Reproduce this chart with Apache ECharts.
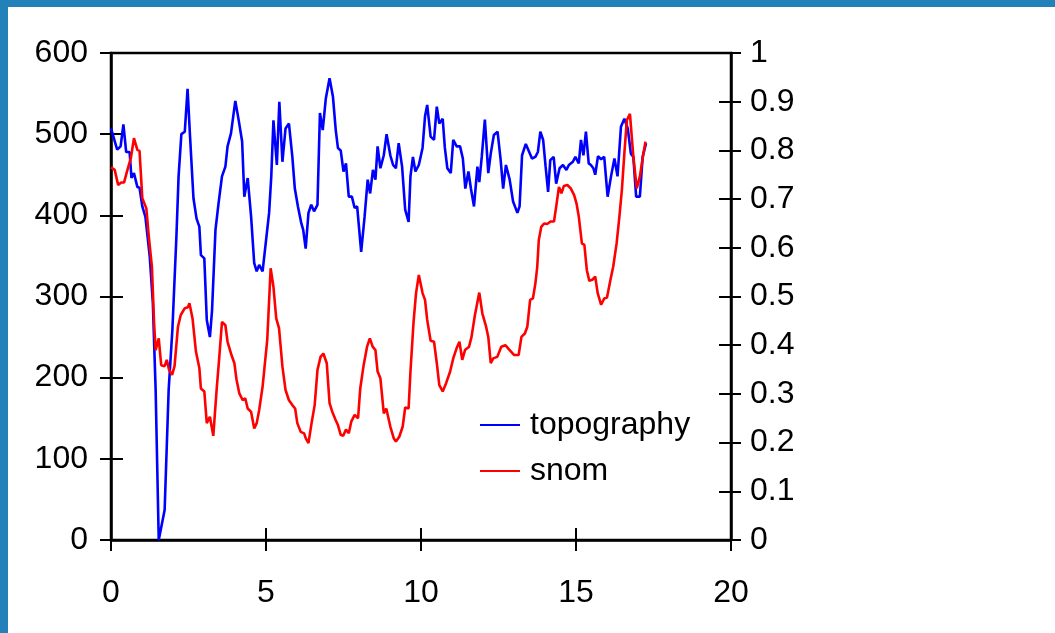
<!DOCTYPE html>
<html>
<head>
<meta charset="utf-8">
<script src="https://cdn.jsdelivr.net/npm/echarts@6/dist/echarts.min.js"></script>
<style>
  html, body { margin: 0; padding: 0; background: #fff; }
  #chart { position: absolute; left: 0; top: 0; width: 1055px; height: 633px; }
  .bar { position: absolute; background: #2381b9; }
</style>
</head>
<body>
<div id="chart"></div>
<div class="bar" style="left:0;top:0;width:1055px;height:7px"></div>
<div class="bar" style="left:0;top:0;width:8px;height:633px"></div>
<script>
// topography (left axis)
const topoX = [0, 0.2, 0.31, 0.4, 0.49, 0.6, 0.66, 0.74, 0.85, 0.92, 1.01, 1.11, 1.25, 1.35, 1.44, 1.54, 1.73, 1.86, 1.98, 2.11,
  2.18, 2.27, 2.38, 2.47, 2.55, 2.66, 2.76, 2.85, 2.9, 3.01, 3.09, 3.19, 3.26, 3.37, 3.47, 3.58, 3.69, 3.76, 3.87, 4.01,
  4.12, 4.23, 4.3, 4.41, 4.52, 4.62, 4.7, 4.78, 4.89, 4.94, 5.1, 5.17, 5.24, 5.35, 5.43, 5.53, 5.63, 5.74, 5.85, 5.93,
  6.03, 6.14, 6.2, 6.28, 6.37, 6.46, 6.55, 6.66, 6.74, 6.83, 6.93, 7.05, 7.16, 7.25, 7.32, 7.41, 7.5, 7.58, 7.67, 7.77,
  7.86, 7.94, 8.07, 8.18, 8.28, 8.36, 8.45, 8.53, 8.6, 8.69, 8.8, 8.89, 9.01, 9.1, 9.19, 9.28, 9.39, 9.49, 9.6, 9.66,
  9.74, 9.82, 9.93, 10.05, 10.13, 10.2, 10.31, 10.42, 10.51, 10.59, 10.7, 10.77, 10.85, 10.96, 11.04, 11.15, 11.26, 11.35, 11.43, 11.53,
  11.61, 11.71, 11.82, 11.88, 11.96, 12.06, 12.17, 12.25, 12.35, 12.47, 12.57, 12.65, 12.74, 12.86, 12.97, 13.02, 13.11, 13.18, 13.26, 13.38,
  13.47, 13.58, 13.69, 13.77, 13.85, 13.94, 14.02, 14.1, 14.17, 14.28, 14.36, 14.47, 14.58, 14.69, 14.77, 14.9, 14.98, 15.09, 15.16, 15.24,
  15.32, 15.41, 15.48, 15.56, 15.62, 15.71, 15.81, 15.91, 16.02, 16.13, 16.24, 16.34, 16.45, 16.56, 16.67, 16.77, 16.85, 16.94, 17.06, 17.15,
  17.26];
const topoY = [507, 481, 485, 512, 478, 478, 446, 452, 435, 434, 411, 398, 349, 292, 185, 0, 37, 185, 259, 374,
  448, 500, 503, 556, 497, 421, 396, 386, 351, 347, 271, 250, 283, 382, 415, 448, 460, 485, 501, 541,
  517, 491, 423, 446, 398, 341, 331, 339, 331, 333, 403, 448, 517, 462, 540, 466, 507, 513, 472, 433,
  411, 390, 382, 359, 403, 413, 405, 413, 526, 505, 544, 569, 546, 505, 483, 480, 454, 464, 423, 423,
  409, 411, 355, 398, 444, 427, 456, 444, 485, 458, 474, 500, 474, 462, 458, 489, 460, 407, 392, 448,
  472, 454, 462, 483, 522, 536, 497, 493, 534, 513, 519, 483, 458, 452, 493, 485, 485, 470, 433, 454,
  433, 411, 460, 441, 472, 518, 452, 476, 499, 503, 468, 433, 462, 444, 417, 415, 403, 411, 474, 488,
  480, 470, 472, 478, 503, 493, 460, 429, 468, 472, 439, 458, 462, 456, 462, 466, 472, 464, 493, 474,
  503, 464, 462, 458, 450, 473, 469, 472, 423, 448, 470, 448, 509, 519, 507, 476, 472, 423, 423, 472,
  489];

// snom (right axis)
const snomX = [0, 0.12, 0.23, 0.33, 0.42, 0.53, 0.64, 0.74, 0.85, 0.92, 1.01, 1.14, 1.22, 1.32, 1.39, 1.44, 1.54, 1.62, 1.73, 1.8,
  1.87, 1.97, 2.05, 2.16, 2.25, 2.38, 2.48, 2.53, 2.63, 2.74, 2.85, 2.9, 3.01, 3.09, 3.19, 3.3, 3.41, 3.49, 3.58, 3.69,
  3.76, 3.87, 3.98, 4.05, 4.14, 4.25, 4.33, 4.41, 4.52, 4.62, 4.7, 4.78, 4.89, 5.04, 5.15, 5.24, 5.33, 5.42, 5.53, 5.63,
  5.74, 5.85, 5.94, 6.01, 6.12, 6.23, 6.28, 6.37, 6.47, 6.57, 6.66, 6.76, 6.85, 6.96, 7.05, 7.14, 7.25, 7.32, 7.41, 7.49,
  7.58, 7.67, 7.75, 7.86, 7.97, 8.04, 8.15, 8.26, 8.35, 8.44, 8.53, 8.6, 8.69, 8.8, 8.88, 9.01, 9.12, 9.19, 9.3, 9.41,
  9.49, 9.6, 9.66, 9.76, 9.84, 9.93, 10.05, 10.13, 10.2, 10.31, 10.42, 10.51, 10.59, 10.7, 10.81, 10.94, 11.04, 11.15, 11.24, 11.33,
  11.42, 11.55, 11.63, 11.74, 11.88, 11.98, 12.1, 12.17, 12.25, 12.33, 12.46, 12.59, 12.72, 12.86, 13, 13.15, 13.24, 13.35, 13.43, 13.52,
  13.61, 13.69, 13.75, 13.8, 13.88, 13.97, 14.07, 14.18, 14.29, 14.36, 14.45, 14.53, 14.61, 14.72, 14.83, 14.94, 15.02, 15.09, 15.19, 15.27,
  15.35, 15.43, 15.54, 15.62, 15.7, 15.81, 15.91, 16, 16.11, 16.2, 16.31, 16.4, 16.48, 16.56, 16.64, 16.74, 16.85, 16.96, 17.06, 17.15,
  17.24];
const snomY = [0.765, 0.76, 0.729, 0.734, 0.734, 0.76, 0.784, 0.825, 0.801, 0.799, 0.702, 0.681, 0.623, 0.561, 0.445, 0.39, 0.414, 0.359, 0.357, 0.37,
  0.35, 0.339, 0.357, 0.438, 0.462, 0.476, 0.478, 0.486, 0.455, 0.387, 0.353, 0.311, 0.305, 0.24, 0.253, 0.214, 0.311, 0.373, 0.448, 0.441,
  0.407, 0.383, 0.363, 0.329, 0.301, 0.287, 0.291, 0.27, 0.263, 0.229, 0.24, 0.267, 0.315, 0.411, 0.558, 0.52, 0.455, 0.435, 0.356, 0.308,
  0.287, 0.277, 0.27, 0.24, 0.222, 0.219, 0.209, 0.199, 0.24, 0.277, 0.349, 0.376, 0.383, 0.363, 0.281, 0.263, 0.246, 0.236, 0.216, 0.214,
  0.227, 0.219, 0.243, 0.257, 0.25, 0.311, 0.359, 0.397, 0.414, 0.397, 0.39, 0.346, 0.332, 0.26, 0.27, 0.233, 0.209, 0.202, 0.212, 0.233,
  0.272, 0.27, 0.346, 0.448, 0.507, 0.544, 0.507, 0.493, 0.452, 0.409, 0.407, 0.363, 0.318, 0.305, 0.322, 0.346, 0.373, 0.394, 0.407, 0.37,
  0.39, 0.397, 0.417, 0.462, 0.508, 0.465, 0.438, 0.417, 0.363, 0.373, 0.376, 0.397, 0.4, 0.39, 0.38, 0.38, 0.417, 0.424, 0.438, 0.493,
  0.496, 0.527, 0.561, 0.616, 0.643, 0.65, 0.649, 0.654, 0.654, 0.684, 0.725, 0.712, 0.727, 0.729, 0.722, 0.708, 0.69, 0.664, 0.609, 0.606,
  0.554, 0.532, 0.535, 0.541, 0.507, 0.483, 0.496, 0.498, 0.534, 0.561, 0.609, 0.664, 0.719, 0.794, 0.862, 0.875, 0.787, 0.722, 0.746, 0.784,
  0.818];

const xTicks = { min: 0, max: 20, interval: 5 };
const leftTicks = { min: 0, max: 600, interval: 100 };
const rightTicks = { min: 0, max: 1, interval: 0.1 };

const pairs = (xs, ys) => xs.map((x, i) => [x, ys[i]]);

const font = { fontFamily: "Liberation Sans, Arial, sans-serif", fontSize: 32, color: "#000" };
const axisLine = { show: true, lineStyle: { color: "#000", width: 2.5 } };
const tickStyle = { color: "#000", width: 2 };

// every axis is doubled: one with outward ticks + labels, one with inward ticks only
const xAxis = [
  { type: "value", position: "bottom", ...xTicks, splitLine: { show: false },
    axisLine, axisTick: { show: true, length: 11, lineStyle: tickStyle },
    axisLabel: { ...font, margin: 37 } },
  { type: "value", position: "bottom", ...xTicks, splitLine: { show: false },
    axisLine: { show: false }, axisTick: { show: true, inside: true, length: 12, lineStyle: tickStyle },
    axisLabel: { show: false } },
];
const yAxis = [
  { type: "value", position: "left", ...leftTicks, splitLine: { show: false },
    axisLine, axisTick: { show: true, length: 11, lineStyle: tickStyle },
    axisLabel: { ...font, margin: 23 } },
  { type: "value", position: "left", ...leftTicks, splitLine: { show: false },
    axisLine: { show: false }, axisTick: { show: true, inside: true, length: 12, lineStyle: tickStyle },
    axisLabel: { show: false } },
  { type: "value", position: "right", ...rightTicks, splitLine: { show: false },
    axisLine, axisTick: { show: true, length: 10, lineStyle: tickStyle },
    axisLabel: { ...font, margin: 19 } },
  { type: "value", position: "right", ...rightTicks, splitLine: { show: false },
    axisLine: { show: false }, axisTick: { show: true, inside: true, length: 12, lineStyle: tickStyle },
    axisLabel: { show: false } },
];

const chart = echarts.init(document.getElementById("chart"), null, { renderer: "canvas" });
chart.setOption({
  animation: false,
  backgroundColor: "#fff",
  grid: { left: 111, right: 324, top: 53, bottom: 93, show: true, borderColor: "#000", borderWidth: 2.5 },
  legend: {
    orient: "vertical", left: 480, top: 407, padding: 0, itemGap: 10,
    icon: "rect", itemWidth: 40, itemHeight: 2,
    textStyle: { ...font, lineHeight: 36, padding: [0, 0, 0, 5] },
    data: ["topography", "snom"],
  },
  xAxis,
  yAxis,
  series: [
    { name: "topography", type: "line", xAxisIndex: 0, yAxisIndex: 0, data: pairs(topoX, topoY),
      symbol: "none", color: "#0000ff", lineStyle: { width: 2.6, color: "#0000ff" } },
    { name: "snom", type: "line", xAxisIndex: 0, yAxisIndex: 2, data: pairs(snomX, snomY),
      symbol: "none", color: "#ff0000", lineStyle: { width: 2.6, color: "#ff0000" } },
  ],
});
</script>
</body>
</html>
